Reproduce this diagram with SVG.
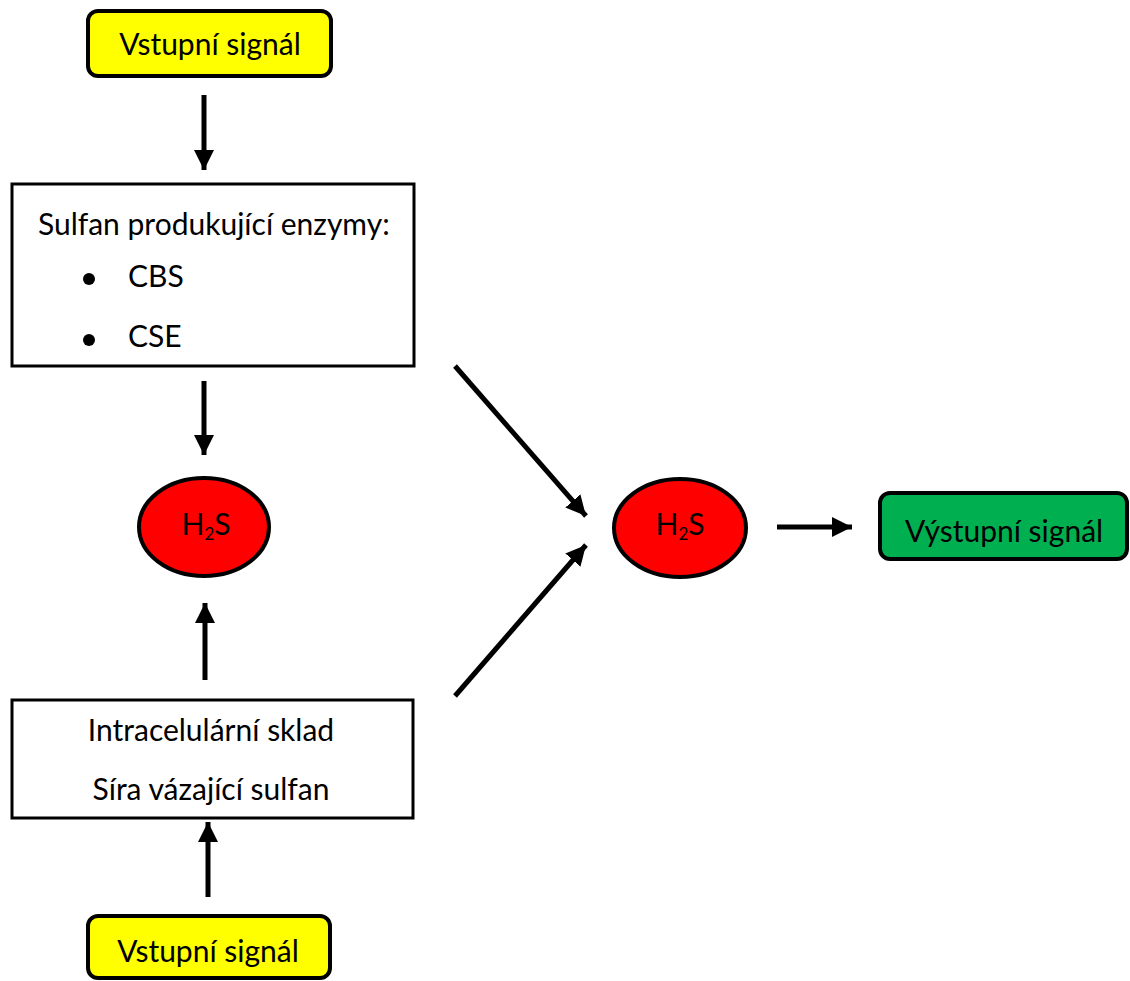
<svg xmlns="http://www.w3.org/2000/svg" width="1130" height="981" viewBox="0 0 1130 981">
<style>
.t{font-family:Lato,"Open Sans","Liberation Sans",sans-serif;font-size:30px;fill:#000}
.box{stroke:#000;stroke-width:3}
.rbox{stroke:#000;stroke-width:4}
.ell{fill:#FF0000;stroke:#000;stroke-width:4}
.c{stroke:#000;stroke-width:5;fill:none}
</style>
<defs>
<marker id="ah" viewBox="0 0 20 20" refX="20" refY="10" markerWidth="20" markerHeight="20" markerUnits="userSpaceOnUse" orient="auto">
<path d="M0,0 L20,10 L0,20 Z" fill="#000"/>
</marker>
</defs>
<rect width="1130" height="981" fill="#fff"/>
<g id="connectors">
<line class="c" x1="204" y1="95" x2="204" y2="170" marker-end="url(#ah)"/>
<line class="c" x1="204" y1="381" x2="204" y2="455" marker-end="url(#ah)"/>
<line class="c" x1="205" y1="680" x2="205" y2="603" marker-end="url(#ah)"/>
<line class="c" x1="208" y1="897" x2="208" y2="822" marker-end="url(#ah)"/>
<line class="c" x1="455" y1="366" x2="586" y2="516" marker-end="url(#ah)"/>
<line class="c" x1="455" y1="696" x2="586" y2="545" marker-end="url(#ah)"/>
<line class="c" x1="777" y1="527" x2="852" y2="527" marker-end="url(#ah)"/>
</g>
<g id="input-top">
<rect class="rbox" x="88" y="11" width="243" height="65" rx="10" fill="#FFFF00"/>
<text class="t" x="210" y="55" text-anchor="middle">Vstupní signál</text>
</g>
<g id="enzymes">
<rect class="box" x="12" y="184" width="402" height="182" fill="#fff"/>
<text class="t" x="38" y="235">Sulfan produkující enzymy:</text>
<circle cx="89" cy="279" r="6" fill="#000"/>
<text class="t" x="128" y="287">CBS</text>
<circle cx="89" cy="340" r="6" fill="#000"/>
<text class="t" x="128" y="347">CSE</text>
</g>
<g id="h2s-left">
<ellipse class="ell" cx="204" cy="527" rx="65" ry="49"/>
<text class="t" x="206" y="535" text-anchor="middle" font-size="26">H<tspan font-size="17" dy="5">2</tspan><tspan dy="-5">S</tspan></text>
</g>
<g id="store">
<rect class="box" x="12" y="700" width="401" height="118" fill="#fff"/>
<text class="t" x="211" y="741" text-anchor="middle">Intracelulární sklad</text>
<text class="t" x="211" y="800" text-anchor="middle">Síra vázající sulfan</text>
</g>
<g id="input-bottom">
<rect class="rbox" x="88" y="916" width="242" height="62" rx="10" fill="#FFFF00"/>
<text class="t" x="208" y="962" text-anchor="middle">Vstupní signál</text>
</g>
<g id="h2s-right">
<ellipse class="ell" cx="680" cy="528" rx="66" ry="49"/>
<text class="t" x="680" y="535" text-anchor="middle" font-size="26">H<tspan font-size="17" dy="5">2</tspan><tspan dy="-5">S</tspan></text>
</g>
<g id="output">
<rect class="rbox" x="880" y="493" width="247" height="66" rx="10" fill="#00B050"/>
<text class="t" x="1004" y="542" text-anchor="middle">Výstupní signál</text>
</g>
</svg>
